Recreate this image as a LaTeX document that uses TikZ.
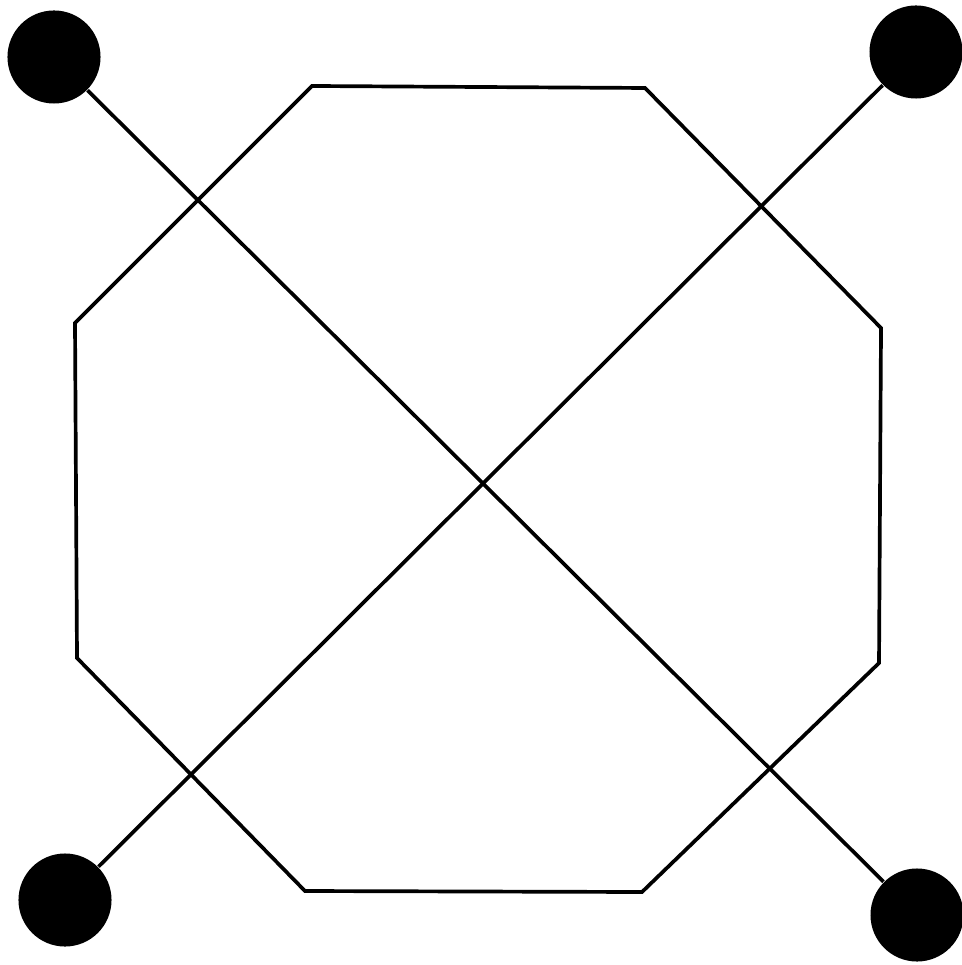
\documentclass[tikz,border=0pt]{standalone}
\usepackage{tikz}
\usetikzlibrary{positioning}

\begin{document}
\begin{tikzpicture}[
  x=0.01cm, y=-0.01cm,
  dot/.style={circle, fill=black, inner sep=0pt, minimum size=9.3mm},
  edge/.style={line width=1.05pt, black},
  rim/.style={line width=1.05pt, black, line join=miter},
]
\useasboundingbox (0,0) rectangle (961,965);

% corner dots
\node[dot] (tl) at (54,57)   {};
\node[dot] (tr) at (916,52)  {};
\node[dot] (bl) at (65,900)  {};
\node[dot] (br) at (917,915) {};

% octagon corners
\coordinate (o1) at (312,86);
\coordinate (o2) at (645,88);
\coordinate (o3) at (881,328);
\coordinate (o4) at (879,663);
\coordinate (o5) at (642,892);
\coordinate (o6) at (305,891);
\coordinate (o7) at (77,658);
\coordinate (o8) at (75,323);

\draw[rim] (o1) -- (o2) -- (o3) -- (o4) -- (o5) -- (o6) -- (o7) -- (o8) -- cycle;

% diagonals
\draw[edge] (tl) -- (br);
\draw[edge] (tr) -- (bl);

\end{tikzpicture}
\end{document}
